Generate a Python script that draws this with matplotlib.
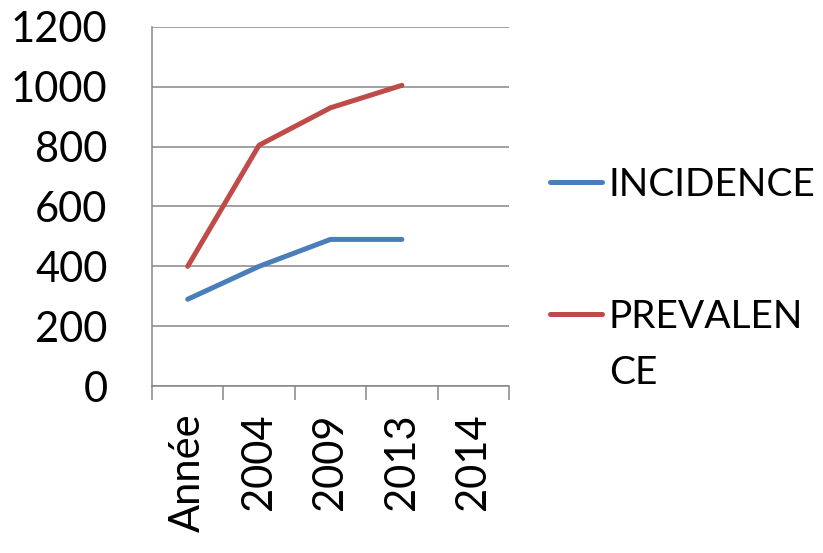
import numpy as np
import matplotlib.pyplot as plt
from matplotlib.lines import Line2D
from matplotlib.ticker import FixedLocator

plt.rcParams['font.family'] = ['Lato', 'DejaVu Sans']

categories = ['Année', '2004', '2009', '2013', '2014']
incidence = [290, 400, 490, 490, np.nan]
prevalence = [400, 805, 930, 1005, np.nan]
series_names = ['INCIDENCE', 'PREVALEN\nCE']
colors = ['#4A7EBB', '#BE4B48']

W, H = 823, 553
fig = plt.figure(figsize=(W / 100, H / 100), dpi=100)
ax = fig.add_axes([152 / W, 1 - 386 / H, (509 - 152) / W, (386 - 27) / H])

x = np.arange(len(categories))
for vals, c in zip([incidence, prevalence], colors):
    ax.plot(x, vals, color=c, lw=3.6, solid_capstyle='round',
            solid_joinstyle='round')

ax.set_xlim(-0.5, len(categories) - 0.5)
ax.set_ylim(0, 1200)
ax.set_yticks(np.arange(0, 1201, 200))
ax.yaxis.grid(True, color='#868686', lw=1.1)
ax.set_axisbelow(True)

ax.set_xticks(x)
ax.set_xticklabels(categories, rotation=90, fontsize=30)
ax.xaxis.set_minor_locator(FixedLocator(np.arange(-0.5, len(categories), 1.0)))
ax.tick_params(axis='x', which='major', length=0, pad=20)
ax.tick_params(axis='x', which='minor', length=10, width=1.1, color='#868686')
ax.tick_params(axis='y', length=0, labelsize=30, pad=32)

for s in ['top', 'right']:
    ax.spines[s].set_visible(False)
for s in ['left', 'bottom']:
    ax.spines[s].set_color('#868686')
    ax.spines[s].set_linewidth(1.1)

# legend drawn by hand so the wrapped label keeps its handle on the first line
def fx(px):
    return px / W

def fy(py):
    return 1 - py / H

for name, c, yc in zip(series_names, colors, [182, 314]):
    fig.add_artist(Line2D([fx(550), fx(602)], [fy(yc), fy(yc)], color=c,
                          lw=3.6, solid_capstyle='round',
                          transform=fig.transFigure))
    for i, part in enumerate(name.split('\n')):
        fig.text(fx(609), fy(yc + 14 + 56 * i), part, fontsize=28,
                 va='baseline', ha='left')

fig.savefig('out.png', dpi=100)
